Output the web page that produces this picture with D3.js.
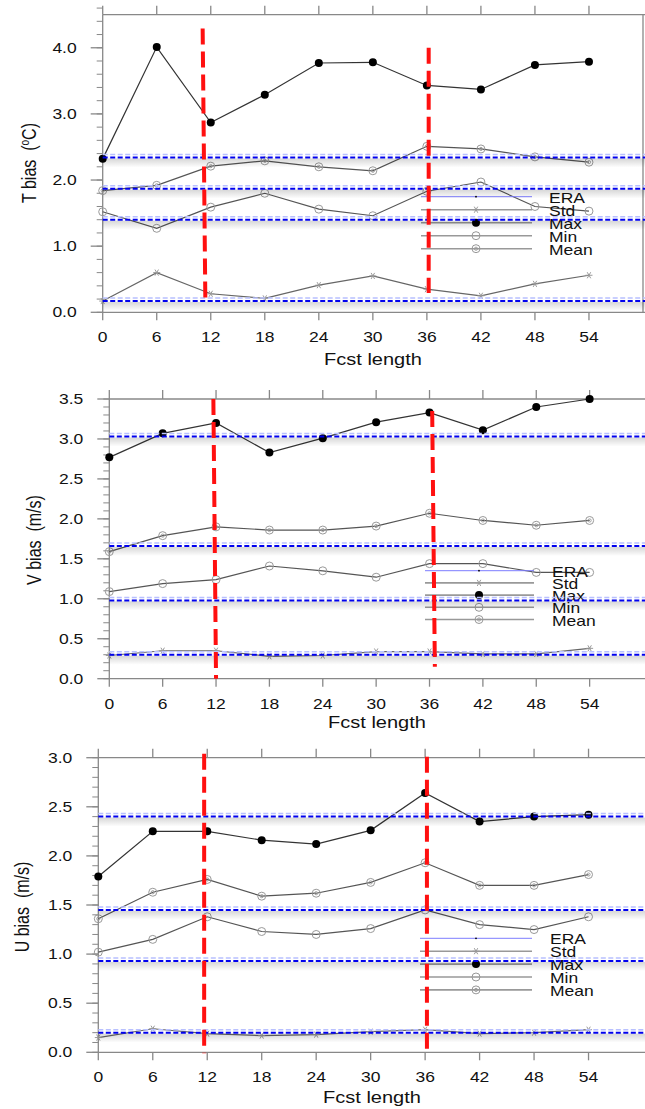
<!DOCTYPE html>
<html>
<head>
<meta charset="utf-8">
<script src="https://cdn.jsdelivr.net/npm/d3@7"></script>
<style>
  body { margin: 0; background: #fff; }
  text { font-family: "Liberation Sans", Arial, sans-serif; fill: #111; }
</style>
</head>
<body>
<svg id="chart" width="645" height="1109"></svg>
<script>
// forecast hours on the x axis
const hours = [0, 6, 12, 18, 24, 30, 36, 42, 48, 54];
const legendNames = ['ERA', 'Std', 'Max', 'Min', 'Mean'];

// T bias (degC)
const tMax  = [2.32, 4.01, 2.87, 3.29, 3.77, 3.78, 3.43, 3.37, 3.74, 3.79];
const tMean = [1.84, 1.92, 2.21, 2.29, 2.20, 2.14, 2.51, 2.47, 2.35, 2.27];
const tMin  = [1.52, 1.27, 1.59, 1.80, 1.56, 1.46, 1.83, 1.97, 1.60, 1.53];
const tStd  = [0.17, 0.60, 0.28, 0.21, 0.41, 0.55, 0.35, 0.25, 0.43, 0.56];
const tEra  = [2.34, 1.87, 1.40, 0.17];
const tTicks = [0, 1, 2, 3, 4];
const tTickLabels = ['0.0', '1.0', '2.0', '3.0', '4.0'];
// red marker lines: [hour at top, value at top, hour at bottom, value at bottom]
const tRed = [[11.1, 4.29, 11.4, 0.15], [36.2, 4.0, 36.2, 0.29]];

// V bias (m/s)
const vMax  = [2.77, 3.07, 3.20, 2.83, 3.01, 3.21, 3.33, 3.11, 3.40, 3.50];
const vMean = [1.59, 1.79, 1.90, 1.86, 1.86, 1.91, 2.07, 1.98, 1.92, 1.98];
const vMin  = [1.09, 1.19, 1.24, 1.41, 1.35, 1.27, 1.44, 1.44, 1.33, 1.33];
const vStd  = [0.29, 0.35, 0.35, 0.28, 0.29, 0.34, 0.34, 0.31, 0.31, 0.38];
const vEra  = [3.03, 1.66, 0.98, 0.30];
const vTicks = [0, 0.5, 1, 1.5, 2, 2.5, 3, 3.5];
const vTickLabels = ['0.0', '0.5', '1.0', '1.5', '2.0', '2.5', '3.0', '3.5'];
const vRed = [[11.7, 3.5, 12.0, 0.0], [36.3, 3.35, 36.6, 0.15]];

// U bias (m/s)
const uMax  = [1.79, 2.25, 2.25, 2.16, 2.12, 2.26, 2.64, 2.35, 2.40, 2.42];
const uMean = [1.36, 1.63, 1.76, 1.59, 1.62, 1.73, 1.93, 1.70, 1.70, 1.81];
const uMin  = [1.02, 1.15, 1.38, 1.23, 1.20, 1.26, 1.45, 1.30, 1.25, 1.38];
const uStd  = [0.15, 0.24, 0.19, 0.17, 0.18, 0.21, 0.23, 0.19, 0.20, 0.23];
const uEra  = [2.40, 1.45, 0.93, 0.20];
const uTicks = [0, 0.5, 1, 1.5, 2, 2.5, 3];
const uTickLabels = ['0.0', '0.5', '1.0', '1.5', '2.0', '2.5', '3.0'];
const uRed = [[11.66, 3.04, 11.66, -0.01], [36.2, 3.01, 36.2, -0.03]];

const SX = 1.25; // the source picture is stretched sideways, text too

const panels = [
  { title: 'T', unit: 'C', max: tMax, mean: tMean, min: tMin, std: tStd, era: tEra, red: tRed,
    ticks: tTicks, tickLabels: tTickLabels, yTop: 4.5, minor: 0.2,
    box: { l: 102.7, r: 643, t: 14.7, b: 312.3 },
    legend: { x0: 421, x1: 532, xm: 476, xt: 549, y: 196.7, dy: 13 },
    ytitle: { x: 30, y: 163 }, xtitle: { x: 373, y: 365 } },
  { title: 'V', unit: 'm/s', max: vMax, mean: vMean, min: vMin, std: vStd, era: vEra, red: vRed,
    ticks: vTicks, tickLabels: vTickLabels, yTop: 3.5, minor: 0.1,
    box: { l: 109.3, r: 648, t: 399, b: 678.7 },
    legend: { x0: 425, x1: 534, xm: 479, xt: 552, y: 570.7, dy: 12.2 },
    ytitle: { x: 35, y: 540 }, xtitle: { x: 377, y: 728 } },
  { title: 'U', unit: 'm/s', max: uMax, mean: uMean, min: uMin, std: uStd, era: uEra, red: uRed,
    ticks: uTicks, tickLabels: uTickLabels, yTop: 3.0, minor: 0.1,
    box: { l: 98.3, r: 648, t: 757.7, b: 1052.3 },
    legend: { x0: 420, x1: 532, xm: 476, xt: 550, y: 938.3, dy: 12.9 },
    ytitle: { x: 23, y: 907 }, xtitle: { x: 372, y: 1103 } }
];

const svg = d3.select('#chart');

const defs = svg.append('defs');
const grad = defs.append('linearGradient').attr('id', 'shadow')
    .attr('x1', 0).attr('y1', 0).attr('x2', 0).attr('y2', 1);
grad.append('stop').attr('offset', '0%').attr('stop-color', '#000').attr('stop-opacity', 0.16);
grad.append('stop').attr('offset', '100%').attr('stop-color', '#000').attr('stop-opacity', 0);

const frameColor = '#888';

function drawMarker(g, kind, x, y) {
    if (kind === 'Max') {
        g.append('circle').attr('cx', x).attr('cy', y).attr('r', 4).attr('fill', '#000');
    } else if (kind === 'Min') {
        g.append('circle').attr('cx', x).attr('cy', y).attr('r', 4)
            .attr('fill', 'none').attr('stroke', '#999').attr('stroke-width', 1);
    } else if (kind === 'Mean') {
        g.append('circle').attr('cx', x).attr('cy', y).attr('r', 4)
            .attr('fill', 'none').attr('stroke', '#999').attr('stroke-width', 1);
        g.append('circle').attr('cx', x).attr('cy', y).attr('r', 1.6)
            .attr('fill', 'none').attr('stroke', '#999').attr('stroke-width', 0.9);
    } else if (kind === 'Std') {
        const s = 3.5;
        let p = '';
        [0, 60, 120].forEach(a => {
            const r = a * Math.PI / 180;
            p += `M${x - s * Math.cos(r)},${y - s * Math.sin(r)}L${x + s * Math.cos(r)},${y + s * Math.sin(r)}`;
        });
        g.append('path').attr('d', p).attr('stroke', '#999').attr('stroke-width', 1).attr('fill', 'none');
    } else if (kind === 'ERA') {
        g.append('circle').attr('cx', x).attr('cy', y).attr('r', 0.9).attr('fill', '#000');
    }
}

panels.forEach(p => {
    const b = p.box;
    const x = d3.scaleLinear().domain([0, 60]).range([b.l, b.l + (b.r - b.l) * (b.r === 643 ? 1 : (643 - b.l) / (b.r - b.l))]);
    // keep the 0..60 span ending at x=643 for all panels
    x.range([b.l, 643]);
    const y = d3.scaleLinear().domain([0, p.yTop]).range([b.b, b.t]);
    const g = svg.append('g');

    // frame
    g.append('line').attr('x1', b.l).attr('x2', 648).attr('y1', b.t).attr('y2', b.t)
        .attr('stroke', frameColor).attr('stroke-width', 1.3);
    g.append('line').attr('x1', b.l).attr('x2', 648).attr('y1', b.b).attr('y2', b.b)
        .attr('stroke', frameColor).attr('stroke-width', 1.3);
    g.append('line').attr('x1', b.l).attr('x2', b.l).attr('y1', b.t).attr('y2', b.b)
        .attr('stroke', frameColor).attr('stroke-width', 1.3);
    if (p.title === 'T') {
        g.append('line').attr('x1', 643).attr('x2', 643).attr('y1', b.t).attr('y2', b.b)
            .attr('stroke', frameColor).attr('stroke-width', 1.3);
    }

    // x ticks top and bottom
    hours.forEach(h => {
        g.append('line').attr('x1', x(h)).attr('x2', x(h)).attr('y1', b.t).attr('y2', b.t - 9)
            .attr('stroke', frameColor).attr('stroke-width', 1.3);
        g.append('line').attr('x1', x(h)).attr('x2', x(h)).attr('y1', b.b).attr('y2', b.b + 8)
            .attr('stroke', frameColor).attr('stroke-width', 1.3);
        g.append('text').attr('transform', `translate(${x(h)},${b.b + 30}) scale(${SX},1)`)
            .attr('text-anchor', 'middle').attr('font-size', 14).text(h);
    });

    // y ticks
    const nMinor = Math.round(p.yTop / p.minor);
    d3.range(nMinor + 1).forEach(i => {
        const v = i * p.minor;
        g.append('line').attr('x1', b.l - 6).attr('x2', b.l).attr('y1', y(v)).attr('y2', y(v))
            .attr('stroke', frameColor).attr('stroke-width', 1);
    });
    p.ticks.forEach((v, i) => {
        g.append('line').attr('x1', b.l - 12).attr('x2', b.l).attr('y1', y(v)).attr('y2', y(v))
            .attr('stroke', frameColor).attr('stroke-width', 1.3);
        g.append('text').attr('transform', `translate(${b.l - 26},${y(v) + 5}) scale(${SX},1)`)
            .attr('text-anchor', 'end').attr('font-size', 14).text(p.tickLabels[i]);
    });

    // axis titles
    g.append('text').attr('transform', `translate(${p.xtitle.x},${p.xtitle.y}) scale(${SX},1)`)
        .attr('text-anchor', 'middle').attr('font-size', 16).text('Fcst length');
    const yt = g.append('text')
        .attr('transform', `translate(${p.ytitle.x + 6},${p.ytitle.y}) rotate(-90) scale(1,${SX})`)
        .attr('text-anchor', 'middle').attr('font-size', 16);
    yt.append('tspan').text(p.title + ' bias\u00a0\u00a0(');
    if (p.unit === 'C') {
        yt.append('tspan').attr('font-size', 10).attr('dy', -6).text('o');
        yt.append('tspan').attr('dy', 6).text('C)');
    } else {
        yt.append('tspan').text(p.unit + ')');
    }

    // data series
    const line = d3.line().x((d, i) => x(hours[i])).y(d => y(d));
    const series = [
        { key: 'Std', values: p.std, color: '#666' },
        { key: 'Min', values: p.min, color: '#555' },
        { key: 'Mean', values: p.mean, color: '#555' },
        { key: 'Max', values: p.max, color: '#333' }
    ];
    series.forEach(s => {
        g.append('path').attr('d', line(s.values)).attr('fill', 'none')
            .attr('stroke', s.color).attr('stroke-width', 1.2);
        s.values.forEach((v, i) => drawMarker(g, s.key, x(hours[i]), y(v)));
    });

    // legend
    const lg = p.legend;
    legendNames.forEach((name, i) => {
        const ly = lg.y + i * lg.dy;
        g.append('line').attr('x1', lg.x0).attr('x2', lg.x1).attr('y1', ly).attr('y2', ly)
            .attr('stroke', name === 'ERA' ? '#7d7dff' : '#999')
            .attr('stroke-width', name === 'ERA' ? 1 : 1.6);
        drawMarker(g, name, lg.xm, ly);
        g.append('text').attr('transform', `translate(${lg.xt},${ly + 6}) scale(${SX},1)`)
            .attr('font-size', 14).text(name);
    });

    // ERA reference lines
    p.era.forEach(v => {
        const yy = y(v);
        g.append('rect').attr('x', b.l).attr('y', yy + 1).attr('width', 648 - b.l).attr('height', 9)
            .attr('fill', 'url(#shadow)');
        g.append('line').attr('x1', b.l).attr('x2', 648).attr('y1', yy - 3).attr('y2', yy - 3)
            .attr('stroke', '#b8c0ff').attr('stroke-width', 1.5).attr('stroke-dasharray', '5,2.5');
        g.append('line').attr('x1', b.l).attr('x2', 648).attr('y1', yy).attr('y2', yy)
            .attr('stroke', '#0000ee').attr('stroke-width', 2).attr('stroke-dasharray', '5,2.5');
    });

    // red dashed marker lines
    p.red.forEach(r => {
        g.append('line').attr('x1', x(r[0])).attr('y1', y(r[1])).attr('x2', x(r[2])).attr('y2', y(r[3]))
            .attr('stroke', '#ff1010').attr('stroke-width', 4).attr('stroke-dasharray', '16,7');
    });
});
</script>
</body>
</html>
